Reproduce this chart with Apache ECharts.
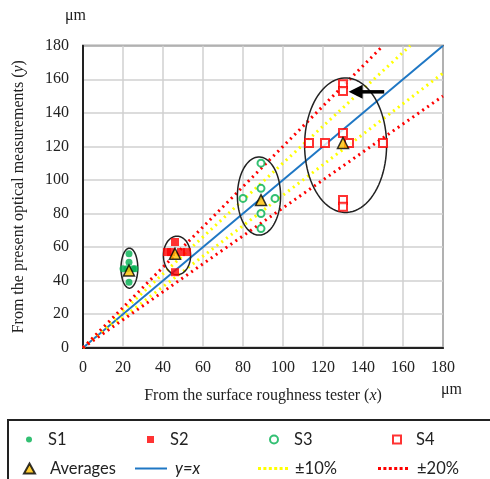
<!DOCTYPE html>
<html><head><meta charset="utf-8">
<script src="https://cdn.jsdelivr.net/npm/echarts@6/dist/echarts.min.js"></script>
<style>html,body{margin:0;padding:0;background:#fff}#c{width:490px;height:479px}</style>
</head><body><div id="c"></div>
<script>
// ---- data ----
const S1 = [[23,56],[23,51],[20,47],[22,47],[25,47],[26,47],[23,39]];
const S2 = [[46,63],[42,57],[44,57],[49,57],[52,57],[46,45]];
const S3 = [[89,110],[89,95],[80,89],[96,89],[89,80],[89,71]];
const S4 = [[130,157],[130,153],[130,128],[113,122],[121,122],[133,122],[150,122],[130,88],[130,84]];
const averages = [[23,46],[46,56],[89,88],[130,122]];
const lineYX = [[0,0],[180,180]];
const plus10 = [[0,0],[163.6,180]];
const minus10 = [[0,0],[180,163.6]];
const plus20 = [[0,0],[150,180]];
const minus20 = [[0,0],[180,150]];
// cluster ellipses: [cx, cy, rx, ry] in data units
const ellipses = [[23.2,47.4,4.2,11.9],[47,55,6.8,11.5],[88,90.4,10.8,23.3],[131.3,120.7,20.5,40.1]];
// arrow: [x tail, y tail, x tip, y tip]
const arrows = [[150.6,152.5,132.8,152.5]];

const chart = echarts.init(document.getElementById('c'));
const serif = '"Liberation Serif","Times New Roman",serif';
const sans = 'Lato,"Liberation Sans",sans-serif';

const dotPath = 'path://M0,0h3v3h-3z M5.4,0h3v3h-3z M10.8,0h3v3h-3z M16.2,0h3v3h-3z M21.6,0h3v3h-3z M27,0h3v3h-3z';
function legendAt(name, left, top, opts){
  opts = opts || {};
  return {data:[opts.icon ? {name:name, icon:opts.icon} : name], left:left, top:top,
    itemWidth: opts.w || 8, itemHeight: opts.h || 8, itemGap:0,
    textStyle:{fontFamily:sans,fontSize:16.5,color:'#222',fontStyle: opts.italic?'italic':'normal', padding:[0,0,0,opts.pad||0]}, selectedMode:false};
}

const option = {
  animation:false,
  grid:{left:83,right:47,top:45.7,bottom:131.3,show:true,borderColor:'#555',borderWidth:2,backgroundColor:'transparent'},
  xAxis:{type:'value',min:0,max:180,interval:20,
    axisLine:{show:true,lineStyle:{color:'#222',width:2}},axisTick:{show:false},
    splitLine:{show:true,lineStyle:{color:'#d0d0d0',width:1.5}},
    axisLabel:{fontFamily:serif,fontSize:16,color:'#222',margin:12},
    name:'From the surface roughness tester ({i|x})',nameLocation:'middle',nameGap:40,
    nameTextStyle:{fontFamily:serif,fontSize:16,color:'#222',rich:{i:{fontFamily:serif,fontSize:16,fontStyle:'italic',color:'#222'}}}},
  yAxis:{type:'value',min:0,max:180,interval:20,
    axisLine:{show:true,lineStyle:{color:'#222',width:2}},axisTick:{show:false},
    splitLine:{show:true,lineStyle:{color:'#d0d0d0',width:1.5}},
    axisLabel:{fontFamily:serif,fontSize:16,color:'#222',margin:14},
    name:'From the present optical measurements ({i|y})',nameLocation:'middle',nameGap:56,
    nameTextStyle:{fontFamily:serif,fontSize:16,color:'#222',rich:{i:{fontFamily:serif,fontSize:16,fontStyle:'italic',color:'#222'}}}},
  legend:[
    legendAt('S1',21,426,{icon:'circle',w:6,h:6,pad:11}),
    legendAt('S2',142,426,{icon:'rect',w:7,h:7,pad:11}),
    legendAt('S3',264,426,{w:8,h:8,pad:11}),
    legendAt('S4',387,426,{w:8,h:8,pad:10}),
    legendAt('Averages',18,455,{w:11,h:10,pad:10}),
    legendAt('y=x',130,455,{icon:'rect',w:32,h:2,italic:true,pad:3}),
    legendAt('±10%',253,455,{icon:dotPath,w:30,h:3,pad:2}),
    legendAt('±20%',373,455,{icon:dotPath,w:30,h:3,pad:4})
  ],
  graphic:[
    {type:'text',left:65,top:8,style:{text:'μm',font:'16px '+serif,fill:'#222'}},
    {type:'text',left:441,top:382,style:{text:'μm',font:'16px '+serif,fill:'#222'}},
    {type:'rect',shape:{x:8,y:420,width:490,height:70},style:{fill:'none',stroke:'#222',lineWidth:2},z:-1}
  ],
  series:[
    {name:'y=x',type:'line',data:lineYX,symbol:'none',lineStyle:{color:'#1f77c4',width:2},itemStyle:{color:'#1f77c4'},z:2},
    {name:'±10%',type:'line',data:plus10,symbol:'none',lineStyle:{color:'#ffff00',width:3,type:[2,4]},itemStyle:{color:'#ffff00'},z:2},
    {name:'±10%',type:'line',data:minus10,symbol:'none',lineStyle:{color:'#ffff00',width:3,type:[2,4]},itemStyle:{color:'#ffff00'},z:2},
    {name:'±20%',type:'line',data:plus20,symbol:'none',lineStyle:{color:'#ff0000',width:3,type:[2,4]},itemStyle:{color:'#ff0000'},z:2},
    {name:'±20%',type:'line',data:minus20,symbol:'none',lineStyle:{color:'#ff0000',width:3,type:[2,4]},itemStyle:{color:'#ff0000'},z:2},
    {name:'S1',type:'scatter',data:S1,symbol:'circle',symbolSize:7,itemStyle:{color:'#00b050'},z:4},
    {name:'S2',type:'scatter',data:S2,symbol:'rect',symbolSize:8,itemStyle:{color:'#ff0000'},z:4},
    {name:'S3',type:'scatter',data:S3,symbol:'emptyCircle',symbolSize:7,itemStyle:{color:'#00b050',borderWidth:2},z:4},
    {name:'S4',type:'scatter',data:S4,symbol:'emptyRect',symbolSize:8,itemStyle:{color:'#ff0000',borderWidth:2},z:4},
    {name:'Averages',type:'scatter',data:averages,symbol:'triangle',symbolSize:11,itemStyle:{color:'#ffc000',borderColor:'#000',borderWidth:1.5},z:5},
    {type:'custom',data:ellipses,z:3,silent:true,
      renderItem:function(params,api){
        const c = api.coord([api.value(0),api.value(1)]);
        const s = api.size([api.value(2),api.value(3)]);
        const pts=[];
        for(let i=0;i<=90;i++){const t=i/90*Math.PI*2;pts.push([c[0]+s[0]*Math.cos(t),c[1]+s[1]*Math.sin(t)]);}
        return {type:'polyline',shape:{points:pts},style:{stroke:'#222',lineWidth:1.5,fill:'none'}};
      }},
    {type:'custom',data:arrows,z:6,silent:true,
      renderItem:function(params,api){
        const a = api.coord([api.value(0),api.value(1)]);
        const b = api.coord([api.value(2),api.value(3)]);
        const head=14, hw=7;
        return {type:'group',children:[
          {type:'line',shape:{x1:a[0],y1:a[1],x2:b[0]+head-2,y2:b[1]},style:{stroke:'#000',lineWidth:3.5}},
          {type:'polygon',shape:{points:[[b[0],b[1]],[b[0]+head,b[1]-hw],[b[0]+head,b[1]+hw]]},style:{fill:'#000'}}
        ]};
      }}
  ]
};
chart.setOption(option);
</script></body></html>
